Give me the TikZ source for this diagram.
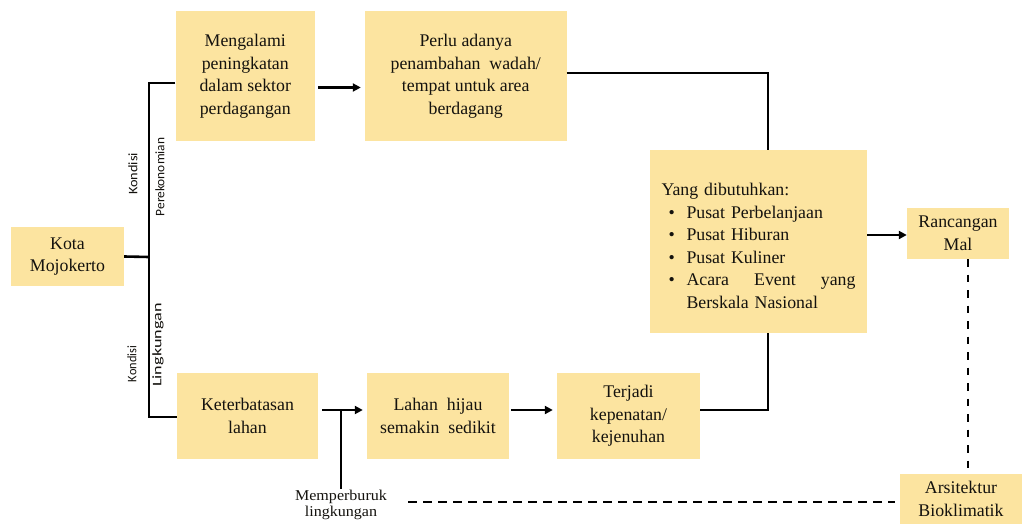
\documentclass[tikz,border=0pt]{standalone}
\usepackage{graphicx}
\usepackage{fontspec}
\setmainfont{Liberation Serif}
\newfontfamily\smallserif[FakeStretch=1.07]{Liberation Serif}
\newfontfamily\labelsans{Carlito}
\usetikzlibrary{arrows.meta}
\definecolor{boxfill}{RGB}{252,228,160}
\definecolor{ink}{RGB}{20,18,14}
\begin{document}
\begin{tikzpicture}[x=1pt,y=-1pt,
  box/.style={draw=none, fill=boxfill, text=ink, align=center, inner sep=0pt,
    font=\fontsize{17.8}{22.5}\selectfont},
  link/.style={line width=2.6pt, draw=black},
  arr/.style={link, -{Triangle[length=8pt,width=8pt]}},
  dsh/.style={line width=2.8pt, dash pattern=on 9pt off 6pt},
  dshv/.style={line width=2.8pt, dash pattern=on 7.5pt off 8pt},
  rot/.style={rotate=90, font=\labelsans\fontsize{13}{15}\selectfont, text=ink, inner sep=0pt},
  note/.style={font=\smallserif\fontsize{15}{16.5}\selectfont, align=center, text=ink, inner sep=1pt}]
\useasboundingbox (0,0) rectangle (1022,524);
\fill[white] (0,0) rectangle (1022,524);

% boxes
\node[box, minimum width=113pt, minimum height=59pt] (kota) at (67.5,256.5) {Kota\\Mojokerto};
\node[box, minimum width=139.5pt, minimum height=130pt] (meng) at (245.25,76) {Mengalami\\peningkatan\\dalam sektor\\perdagangan};
\node[box, minimum width=201.5pt, minimum height=130pt] (perlu) at (465.75,76) {Perlu adanya\\penambahan\ \ wadah/\\tempat untuk area\\berdagang};
\node[box, minimum width=217pt, minimum height=183pt] (yang) at (758.5,241.5) {};
\node[text=ink, text width=194pt, align=left, inner sep=0pt,
  font=\fontsize{17.8}{22.5}\selectfont] (yangtxt) at (758.5,246) {Yang dibutuhkan:\\
\hspace*{7pt}\makebox[18pt][l]{\textbullet}Pusat Perbelanjaan\\
\hspace*{7pt}\makebox[18pt][l]{\textbullet}Pusat Hiburan\\
\hspace*{7pt}\makebox[18pt][l]{\textbullet}Pusat Kuliner\\
\hspace*{7pt}\makebox[18pt][l]{\textbullet}\makebox[169pt][l]{Acara\hfill Event\hfill yang}\\
\hspace*{25pt}Berskala Nasional};
\node[box, minimum width=102pt, minimum height=51pt] (ranc) at (958,233.5) {Rancangan\\Mal};
\node[box, minimum width=141pt, minimum height=86pt] (ket) at (247.5,416) {Keterbatasan\\lahan};
\node[box, minimum width=142pt, minimum height=86pt] (lahan) at (438,416) {Lahan\ \ hijau\\semakin\ \ sedikit};
\node[box, minimum width=143pt, minimum height=86pt] (terj) at (628.5,416) {Terjadi\\kepenatan/\\kejenuhan};
\node[box, minimum width=122pt, minimum height=50pt] (ars) at (961,499) {Arsitektur\\Bioklimatik};

% labels
\node[rot] (k1) at (133,174) {\scalebox{1.1}[1]{Kondisi}};
\node[rot] (p1) at (160,177) {\scalebox{1.03}[1]{Perekonomian}};
\node[rot] (k2) at (132,364) {\scalebox{0.95}[1]{Kondisi}};
\node[rot] (l2) at (158,345) {\scalebox{1.4}[1]{Lingkungan}};
\node[note] (memp) at (341,505) {Memperburuk\\lingkungan};

% connectors
\coordinate (tr) at (149,257);
\coordinate (ttop) at (149,83);
\coordinate (tbot) at (149,417);
\draw[link] (kota.east) -- (tr);
\draw[link] (ttop -| meng.west) -- (ttop) -- (tbot) -- (tbot -| ket.west);

\coordinate (a1) at ([yshift=-11.5pt]meng.east);
\draw[arr, shorten <=3pt, shorten >=4pt] (a1) -- (a1 -| perlu.west);

\coordinate (p2) at ([yshift=3pt]perlu.east);
\coordinate (yt) at ([xshift=9.5pt]yang.north);
\draw[link] (p2) -| (yt);

\coordinate (t2) at ([yshift=6pt]terj.east);
\coordinate (yb) at ([xshift=9.5pt]yang.south);
\draw[link] (t2) -| (yb);

\coordinate (y2) at ([yshift=6.5pt]yang.east);
\draw[arr] (y2) -- (y2 -| ranc.west);

\coordinate (k3) at ([yshift=6pt]ket.east);
\draw[arr, shorten <=4pt, shorten >=4pt] (k3) -- (k3 -| lahan.west);
\coordinate (jn) at (341,410);
\draw[link] (jn) -- (jn |- memp.north);

\coordinate (l3) at ([yshift=6pt]lahan.east);
\draw[arr, shorten <=2pt, shorten >=4pt] (l3) -- (l3 -| terj.west);

\coordinate (r2) at ([xshift=10pt]ranc.south);
\draw[dshv] (r2) -- (r2 |- ars.north);
\coordinate (ds) at (408,502);
\draw[dsh, shorten >=5pt] (ds) -- (ds -| ars.west);
\end{tikzpicture}
\end{document}
